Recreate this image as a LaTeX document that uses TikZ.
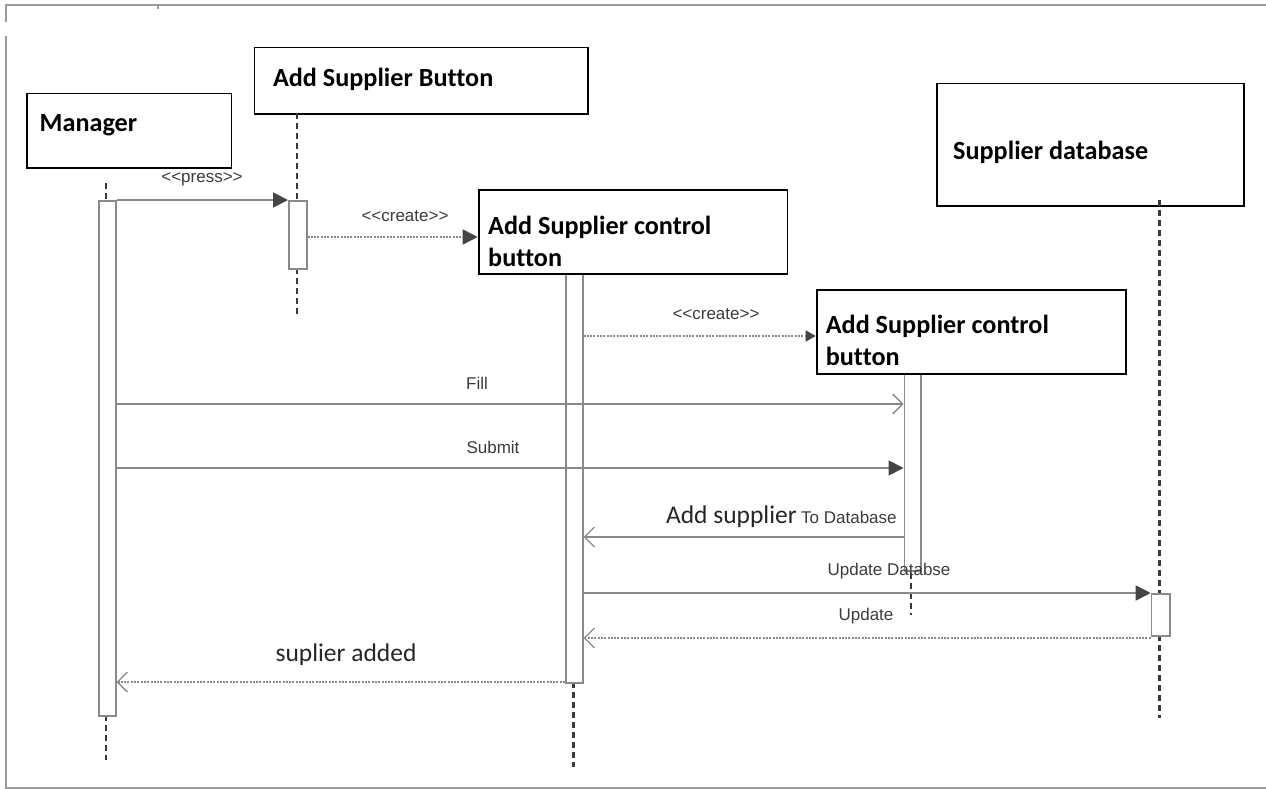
\documentclass[tikz,border=0pt]{standalone}
\usepackage{fontspec}
\setmainfont{Carlito}[Ligatures=NoCommon]
\newfontfamily\msgfont{Liberation Sans}
\usetikzlibrary{arrows.meta}

\definecolor{framegray}{HTML}{9A9A9A}
\definecolor{linegray}{HTML}{8A8A8A}
\definecolor{headgray}{HTML}{454545}
\definecolor{lifegray}{HTML}{3A3A3A}
\definecolor{labelgray}{HTML}{3C3C3C}

\tikzset{
  objbox/.style={draw=black, line width=1.8pt, fill=white, inner sep=0pt},
  objlabel/.style={anchor=west, inner sep=0pt, font=\fontsize{26.2}{30}\selectfont\bfseries},
  actbox/.style={draw=linegray, line width=1.5pt, fill=white, inner sep=0pt},
  lifeline/.style={draw=lifegray, line width=2.4pt, dash pattern=on 6pt off 4pt},
  syncmsg/.style={draw=linegray, line width=1.8pt,
    -{Triangle[length=15pt, width=15pt, fill=headgray, color=headgray]}},
  syncsmall/.style={draw=linegray, line width=1.8pt,
    -{Triangle[length=10pt, width=11pt, fill=headgray, color=headgray]}},
  asyncmsg/.style={draw=linegray, line width=1.8pt,
    -{Straight Barb[length=10pt, width=20pt, line width=1.3pt]}},
  dotted line/.style={dash pattern=on 2pt off 1.3pt},
  msglabel/.style={inner sep=0pt, text=labelgray, font=\msgfont\fontsize{17}{20}\selectfont},
  biglabel/.style={inner sep=0pt, text=black!85, font=\fontsize{25.5}{29}\selectfont},
}

\begin{document}
\begin{tikzpicture}[x=1pt, y=-1pt]
  % canvas
  \path[use as bounding box] (0,0) rectangle (1266,789);
  \fill[white] (0,0) rectangle (1266,789);

  % outer frame
  \draw[framegray, line width=2pt] (6,22) -- (6,5) -- (1266,5);
  \draw[framegray, line width=2pt] (6,36) -- (6,787.5) -- (1266,787.5);
  \draw[framegray, line width=1.2pt] (158,5) -- (158,9);

  % participants
  \node[objbox, minimum width=204.8pt, minimum height=74.6pt, anchor=north west] (manager) at (25.7,92.7) {};
  \node[objlabel] at (39.5,125) {Manager};

  \node[objbox, minimum width=333.3pt, minimum height=66.6pt, anchor=north west] (button) at (253.5,46.7) {};
  \node[objlabel] at (272.8,79) {Add Supplier Button};

  \node[objbox, minimum width=307pt, minimum height=122.3pt, anchor=north west] (db) at (936,82.7) {};
  \node[objlabel] at (953,152.7) {Supplier database};

  % lifelines
  \draw[lifeline] (106,183) -- (106,200);
  \draw[lifeline] (106,715) -- (106,760);
  \draw[lifeline] (297,113.3) -- (297,200);
  \draw[lifeline] (297,268) -- (297,315);
  \draw[lifeline] (573.5,682) -- (573.5,767);
  \draw[lifeline] (911,573) -- (911,615);
  \draw[lifeline] (1159.5,200) -- (1159.5,593);
  \draw[lifeline] (1159.5,635) -- (1159.5,718);

  % activation bars
  \node[actbox, minimum width=17pt, minimum height=515pt, anchor=north west] (actM) at (98,200) {};
  \node[actbox, minimum width=18pt, minimum height=68pt, anchor=north west] (actB) at (288,200) {};
  \node[actbox, minimum width=17pt, minimum height=409pt, anchor=north west] (actC1) at (565,273) {};
  \node[actbox, minimum width=16.5pt, minimum height=197pt, anchor=north west] (actC2) at (903.5,373) {};
  \node[actbox, minimum width=18.3pt, minimum height=42pt, anchor=north west] (actD) at (1150.7,593) {};

  % created control objects
  \node[objbox, minimum width=308.8pt, minimum height=84pt, anchor=north west] (ctrlA) at (477.7,189.3) {};
  \node[objlabel] at (488,227) {Add Supplier control};
  \node[objlabel] at (488,257) {button};

  \node[objbox, minimum width=309.3pt, minimum height=84pt, anchor=north west] (ctrlB) at (815.7,289.3) {};
  \node[objlabel] at (825.6,326.7) {Add Supplier control};
  \node[objlabel] at (825.6,356.7) {button};

  % messages
  \draw[syncmsg] (actM.east |- 0,200) -- (actB.west |- 0,200);
  \node[msglabel] at (202,179) {<{}<press>{}>};

  \draw[syncmsg, dotted line] (actB.east |- 0,237) -- (ctrlA.west |- 0,237);
  \node[msglabel] at (405,216) {<{}<create>{}>};

  \draw[syncsmall, dotted line] (actC1.east |- 0,336) -- (ctrlB.west |- 0,336);
  \node[msglabel] at (716,314) {<{}<create>{}>};

  \draw[asyncmsg] (actM.east |- 0,404) -- (actC2.west |- 0,404);
  \node[msglabel] at (477,383) {Fill};

  \draw[syncmsg] (actM.east |- 0,468) -- (actC2.west |- 0,468);
  \node[msglabel] at (493,447) {Submit};

  \draw[asyncmsg] (actC2.west |- 0,537) -- (actC1.east |- 0,537);
  \node[biglabel, anchor=base east] (addlbl) at (797,523) {Add supplier};
  \node[msglabel, anchor=base west] at (801,523) {To Database};

  \draw[syncmsg] (actC1.east |- 0,593) -- (actD.west |- 0,593);
  \node[msglabel] at (889,571) {Update Databse};

  \draw[asyncmsg, dotted line] (actD.west |- 0,638) -- (actC1.east |- 0,638);
  \node[msglabel] at (866,616) {Update};

  \draw[asyncmsg, dotted line] (actC1.west |- 0,682) -- (actM.east |- 0,682);
  \node[biglabel] at (346,655) {suplier added};
\end{tikzpicture}
\end{document}
